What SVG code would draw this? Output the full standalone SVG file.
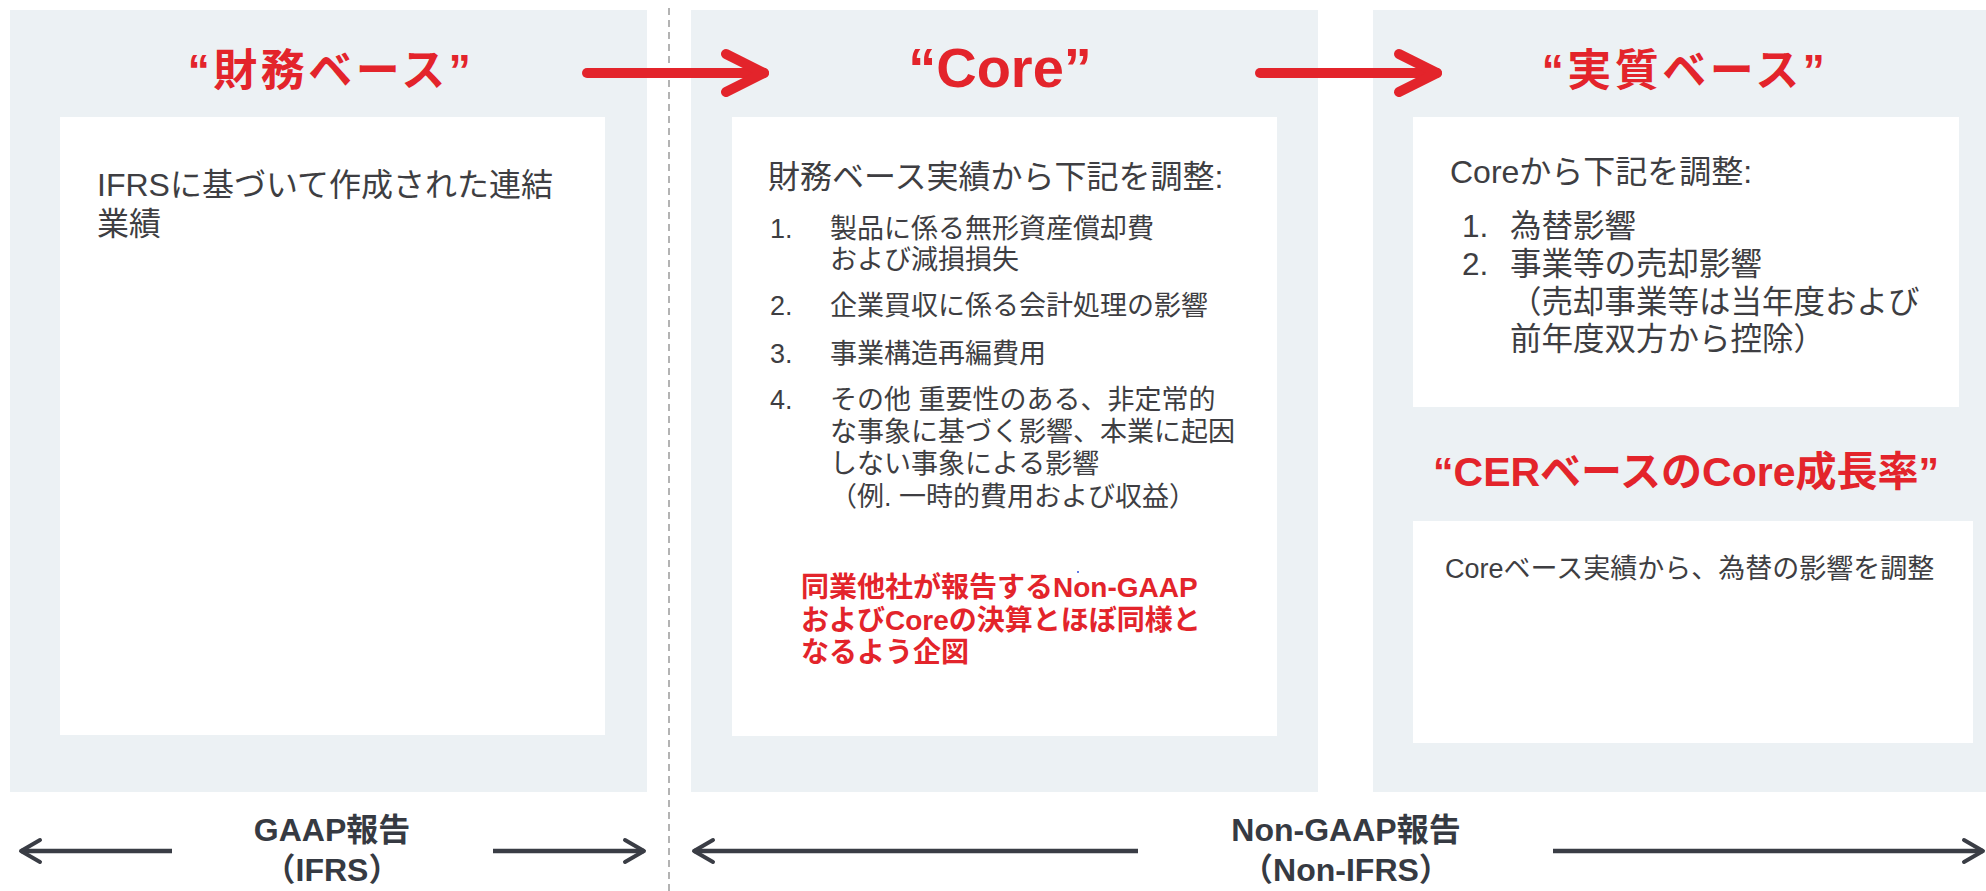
<svg xmlns="http://www.w3.org/2000/svg" width="1986" height="891" viewBox="0 0 1986 891">
<style>
.panel{fill:#ECF1F4}
.box{fill:#FFFFFF}
.title{font-family:"Liberation Sans","Noto Sans CJK JP",sans-serif;font-weight:bold;fill:#E3242B;text-anchor:middle}
.body{font-family:"Liberation Sans","Noto Sans CJK JP",sans-serif;fill:#3E3E42}
.red{font-family:"Liberation Sans","Noto Sans CJK JP",sans-serif;font-weight:bold;fill:#E3242B}
.foot{font-family:"Liberation Sans","Noto Sans CJK JP",sans-serif;font-weight:bold;fill:#363A42;text-anchor:middle;font-size:32px}
.redarrow{stroke:#E3242B;stroke-width:10;stroke-linecap:round;fill:none}
.grayarrow{stroke:#3A3D45;stroke-width:4.5;fill:none}
</style>
<defs>
<marker id="redhead" markerUnits="userSpaceOnUse" viewBox="-50 -30 60 60" markerWidth="60" markerHeight="60" refX="0" refY="0" orient="auto" overflow="visible">
<path d="M -38 -19 L 0 0 L -38 19" fill="none" stroke="#E3242B" stroke-width="10" stroke-linecap="round" stroke-linejoin="round"/>
</marker>
<marker id="grayhead" markerUnits="userSpaceOnUse" viewBox="-30 -15 35 30" markerWidth="35" markerHeight="30" refX="0" refY="0" orient="auto" overflow="visible">
<path d="M -19 -11 L 0 0 L -19 11" fill="none" stroke="#3A3D45" stroke-width="4" stroke-linecap="round" stroke-linejoin="round"/>
</marker>
</defs>
<rect width="1986" height="891" fill="#FFFFFF"/>

<g id="node-zaimu">
<rect class="panel" x="10" y="10" width="637" height="782"/>
<rect class="box" x="60" y="117" width="545" height="618"/>
<text class="title" x="331" y="86" font-size="44" letter-spacing="3.5">“財務ベース”</text>
<text class="body" x="97" y="196" font-size="32">IFRSに基づいて作成された連結</text>
<text class="body" x="97" y="235" font-size="32">業績</text>
</g>

<g id="node-core">
<rect class="panel" x="691" y="10" width="627" height="782"/>
<rect class="box" x="732" y="117" width="545" height="619"/>
<text class="title" x="1000" y="87" font-size="56">“Core”</text>
<text class="body" x="768" y="188" font-size="32">財務ベース実績から下記を調整:</text>
<g font-size="27">
<text class="body" x="770" y="238">1.</text>
<text class="body" x="830" y="238">製品に係る無形資産償却費</text>
<text class="body" x="830" y="269">および減損損失</text>
<text class="body" x="770" y="315">2.</text>
<text class="body" x="830" y="315">企業買収に係る会計処理の影響</text>
<text class="body" x="770" y="363">3.</text>
<text class="body" x="830" y="363">事業構造再編費用</text>
<text class="body" x="770" y="409">4.</text>
<text class="body" x="830" y="409">その他 重要性のある、非定常的</text>
<text class="body" x="830" y="441">な事象に基づく影響、本業に起因</text>
<text class="body" x="830" y="473">しない事象による影響</text>
<text class="body" x="830" y="506">（例. 一時的費用および収益）</text>
</g>
<g font-size="28">
<text class="red" x="801" y="597">同業他社が報告するNon-GAAP</text>
<text class="red" x="801" y="630">およびCoreの決算とほぼ同様と</text>
<text class="red" x="801" y="662">なるよう企図</text>
</g>
<circle cx="1078" cy="572" r="1" fill="#3050E0"/>
</g>

<g id="node-jisshitsu">
<rect class="panel" x="1373" y="10" width="613" height="782"/>
<rect class="box" x="1413" y="117" width="546" height="290"/>
<text class="title" x="1685" y="86" font-size="44" letter-spacing="3.5">“実質ベース”</text>
<text class="body" x="1450" y="183" font-size="32">Coreから下記を調整:</text>
<g font-size="31.5">
<text class="body" x="1462" y="237">1.</text>
<text class="body" x="1510" y="237">為替影響</text>
<text class="body" x="1462" y="275">2.</text>
<text class="body" x="1510" y="275">事業等の売却影響</text>
<text class="body" x="1510" y="313">（売却事業等は当年度および</text>
<text class="body" x="1510" y="350">前年度双方から控除）</text>
</g>
</g>

<g id="node-cer">
<text class="title" x="1686" y="486" font-size="41">“CERベースのCore成長率”</text>
<rect class="box" x="1413" y="521" width="560" height="222"/>
<text class="body" x="1445" y="578" font-size="27" fill="#222">Coreベース実績から、為替の影響を調整</text>
</g>

<g id="node-gaap">
<text class="foot" x="332" y="841">GAAP報告</text>
<text class="foot" x="332" y="881">（IFRS）</text>
</g>

<g id="node-nongaap">
<text class="foot" x="1346" y="841">Non-GAAP報告</text>
<text class="foot" x="1346" y="881">（Non-IFRS）</text>
</g>

<line id="divider" x1="669" y1="8" x2="669" y2="891" stroke="#9A9A9A" stroke-width="1.5" stroke-dasharray="7 5"/>

<g id="connectors">
<line class="redarrow" x1="587" y1="73" x2="764" y2="73" marker-end="url(#redhead)"/>
<line class="redarrow" x1="1260" y1="73" x2="1437" y2="73" marker-end="url(#redhead)"/>
<line class="grayarrow" x1="172" y1="851" x2="21" y2="851" marker-end="url(#grayhead)"/>
<line class="grayarrow" x1="493" y1="851" x2="644" y2="851" marker-end="url(#grayhead)"/>
<line class="grayarrow" x1="1138" y1="851" x2="694" y2="851" marker-end="url(#grayhead)"/>
<line class="grayarrow" x1="1553" y1="851" x2="1983" y2="851" marker-end="url(#grayhead)"/>
</g>
</svg>
